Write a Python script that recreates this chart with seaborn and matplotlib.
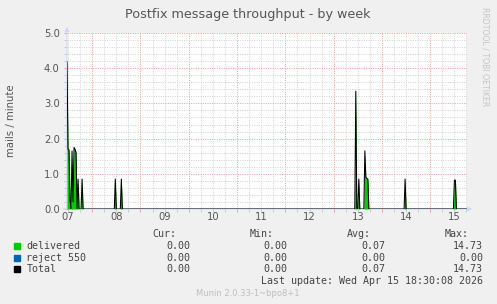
import numpy as np
import pandas as pd
import matplotlib
matplotlib.use("Agg")
import matplotlib.pyplot as plt
import seaborn as sns
from matplotlib.ticker import MultipleLocator, NullFormatter

# ---------------- data ----------------
title = "Postfix message throughput - by week"
ylabel = "mails / minute"
day_labels = ["07", "08", "09", "10", "11", "12", "13", "14", "15"]
y_ticks = [0.0, 1.0, 2.0, 3.0, 4.0, 5.0]
series_names = ["delivered", "reject 550", "Total"]
series_colors = ["#00CC00", "#0066B3", "#000000"]
cur_vals = ["0.00", "0.00", "0.00"]
min_vals = ["0.00", "0.00", "0.00"]
avg_vals = ["0.07", "0.00", "0.07"]
max_vals = ["14.73", "0.00", "14.73"]
last_update = "Last update: Wed Apr 15 18:30:08 2026"
version = "Munin 2.0.33-1~bpo8+1"
watermark = "RRDTOOL / TOBI OETIKER"

# 30-minute samples; hours counted from Apr 07 00:00
start_hour = 11.5
n_samples = 398
delivered_hours = [11.5, 12.0, 12.5, 13.0, 14.0, 14.5, 15.0, 15.5, 16.0, 17.0, 19.0,
                   35.5, 38.5,
                   155.0, 156.5, 159.5, 160.0, 160.5, 161.0,
                   179.5, 204.0, 204.5]
delivered_values = [4.18, 1.70, 1.68, 0.25, 1.65, 0.20, 1.75, 1.70, 1.60, 0.85, 0.85,
                    0.85, 0.85,
                    3.35, 0.85, 1.65, 0.90, 0.87, 0.85,
                    0.85, 0.82, 0.82]
reject_hours = []
reject_values = []

# ---------------- build series ----------------
hours = start_hour + 0.5 * np.arange(n_samples)
delivered = pd.Series(0.0, index=hours)
delivered.loc[delivered_hours] = delivered_values
reject = pd.Series(0.0, index=hours)
if reject_hours:
    reject.loc[reject_hours] = reject_values
df = pd.DataFrame({
    "day": 7 + hours / 24.0,
    "delivered": delivered.values,
    "reject": reject.values,
})
df["total"] = df["delivered"] + df["reject"]

# ---------------- figure ----------------
W, H = 497, 304
sns.set_theme(style="white")
plt.rcParams["font.family"] = ["DejaVu Sans"]
fig = plt.figure(figsize=(W / 100, H / 100), dpi=100, facecolor="#F0F0F0")
L, R, B, T = 67, 467, 209, 33
ax = fig.add_axes([L / W, 1 - B / H, (R - L) / W, (B - T) / H])
ax.set_facecolor("#FFFFFF")

x_left = 7 + start_hour / 24.0
x_right = x_left + (R - L) / 48.3
ax.set_xlim(x_left, x_right)
ax.set_ylim(0, 5)

# grid
ax.xaxis.set_major_locator(MultipleLocator(1.0))
ax.xaxis.set_minor_locator(MultipleLocator(0.25))
ax.xaxis.set_major_formatter(NullFormatter())
ax.set_yticks(y_ticks)
ax.set_yticklabels([f"{v:.1f}" for v in y_ticks])
ax.yaxis.set_minor_locator(MultipleLocator(0.2))
ax.set_axisbelow(True)
ax.grid(which="minor", color="#D2D2D2", linestyle=(0, (1, 1.4)), linewidth=0.7)
ax.grid(which="major", color="#F09A9A", linestyle=(0, (1, 1.4)), linewidth=0.7)
ax.tick_params(which="major", direction="out", length=2.2, width=0.7, color="#F09A9A",
               labelsize=7.2, labelcolor="#555555", pad=3)
ax.tick_params(which="minor", direction="out", length=2.2, width=0.7, color="#C8C8C8")
ax.tick_params(axis="y", which="both", left=True)
ax.tick_params(axis="x", which="both", bottom=True)
for s in ax.spines.values():
    s.set_visible(False)

# day labels centred at noon
sec = ax.secondary_xaxis("bottom")
sec.set_xticks([7.5 + i for i in range(len(day_labels))], labels=day_labels)
sec.tick_params(length=0, labelsize=7.2, labelcolor="#555555", pad=2.5)
for s in sec.spines.values():
    s.set_visible(False)

# axis arrows
ax.annotate("", xy=(0, 1.035), xytext=(0, 0), xycoords="axes fraction",
            arrowprops=dict(arrowstyle="-|>", color="#CFD6F8", lw=0.8,
                            mutation_scale=6, shrinkA=0, shrinkB=0), zorder=2)
ax.annotate("", xy=(1.013, 0), xytext=(-0.01, 0), xycoords="axes fraction",
            arrowprops=dict(arrowstyle="-|>", color="#CFD6F8", lw=0.8,
                            mutation_scale=6, shrinkA=0, shrinkB=0), zorder=2)

# data
ax.fill_between(df["day"], 0, df["delivered"], color=series_colors[0], linewidth=0,
                zorder=3)
ax.fill_between(df["day"], df["delivered"], df["delivered"] + df["reject"],
                color=series_colors[1], linewidth=0, zorder=3)
sns.lineplot(data=df, x="day", y="total", color=series_colors[2], linewidth=0.75,
             ax=ax, zorder=4, legend=False)
ax.set_xlabel("")
ax.set_ylabel("")

# texts
fig.text(248 / W, 1 - 18.3 / H, title, ha="center", va="baseline", fontsize=9.2,
         color="#555555")
fig.text(11 / W, 1 - 121 / H, ylabel, ha="center", va="center", rotation=90,
         fontsize=7.3, color="#555555")
fig.text(485 / W, 1 - 57 / H, watermark, ha="center", va="center", rotation=270,
         fontsize=5.6, color="#C4C4C4")

mono = "DejaVu Sans Mono"
fs = 7.2
tc = "#444444"
header_y = 234
fig.text(176 / W, 1 - header_y / H, "Cur:", ha="right", va="center", family=mono, fontsize=fs, color=tc)
fig.text(274 / W, 1 - header_y / H, "Min:", ha="right", va="center", family=mono, fontsize=fs, color=tc)
fig.text(371 / W, 1 - header_y / H, "Avg:", ha="right", va="center", family=mono, fontsize=fs, color=tc)
fig.text(469 / W, 1 - header_y / H, "Max:", ha="right", va="center", family=mono, fontsize=fs, color=tc)
row_y = [245.7, 257.7, 269.3]
for i, name in enumerate(series_names):
    yy = 1 - row_y[i] / H
    fig.patches.append(plt.Rectangle((14 / W, yy - 3 / H), 6 / W, 6 / H,
                                     transform=fig.transFigure, color=series_colors[i]))
    fig.text(26.5 / W, yy, name, ha="left", va="center", family=mono, fontsize=fs, color=tc)
    fig.text(190 / W, yy, cur_vals[i], ha="right", va="center", family=mono, fontsize=fs, color=tc)
    fig.text(287.7 / W, yy, min_vals[i], ha="right", va="center", family=mono, fontsize=fs, color=tc)
    fig.text(385 / W, yy, avg_vals[i], ha="right", va="center", family=mono, fontsize=fs, color=tc)
    fig.text(483 / W, yy, max_vals[i], ha="right", va="center", family=mono, fontsize=fs, color=tc)
fig.text(483 / W, 1 - 281 / H, last_update, ha="right", va="center", family=mono,
         fontsize=fs, color=tc)
fig.text(248 / W, 1 - 293 / H, version, ha="center", va="center", fontsize=6,
         color="#BEBEBE")

fig.savefig("out.png", dpi=100, facecolor=fig.get_facecolor())
